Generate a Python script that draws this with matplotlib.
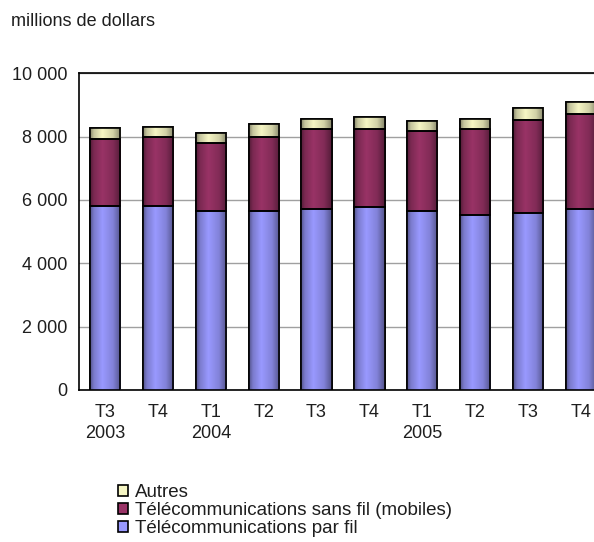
import matplotlib
matplotlib.use("Agg")
import matplotlib.pyplot as plt
import numpy as np
from matplotlib.colors import to_rgb

plt.rcParams['font.family'] = ['Liberation Sans', 'DejaVu Sans']

quarters = ["T3\n2003", "T4", "T1\n2004", "T2", "T3", "T4", "T1\n2005", "T2", "T3", "T4"]
wired = [5800, 5800, 5660, 5660, 5720, 5780, 5660, 5530, 5590, 5720]
mobile = [2140, 2200, 2150, 2340, 2530, 2470, 2530, 2720, 2920, 2980]
others = [320, 320, 320, 390, 320, 380, 310, 320, 380, 380]

labels = ["Télécommunications par fil", "Télécommunications sans fil (mobiles)", "Autres"]
colors = ["#9999ff", "#993366", "#f6f6c4"]
yticks = [0, 2000, 4000, 6000, 8000, 10000]
ytick_labels = ["0", "2 000", "4 000", "6 000", "8 000", "10 000"]


def shade(color, n=64):
    # cylinder-like shading across the bar width
    t = np.linspace(0, 1, n)
    f = np.interp(t, [0, 0.12, 0.4, 0.75, 1], [0.55, 0.8, 1.0, 0.85, 0.55])
    rgb = np.array(to_rgb(color))
    img = np.clip(rgb[None, :] * f[:, None], 0, 1)
    return img[None, :, :]


fig = plt.figure(figsize=(5.94, 5.42), dpi=100)
ax = fig.add_axes([78.5 / 594, 152 / 542, 529 / 594, 316.7 / 542])

x = np.arange(len(quarters))
width = 0.57
bottoms = np.zeros(len(quarters))
handles = []
for vals, col, lab in zip([wired, mobile, others], colors, labels):
    bars = ax.bar(x, vals, width, bottom=bottoms, color=col, edgecolor="black",
                  linewidth=1.2, label=lab, zorder=3)
    grad = shade(col)
    for p in bars.patches:
        x0, y0 = p.get_x(), p.get_y()
        im = ax.imshow(grad, extent=[x0, x0 + p.get_width(), y0, y0 + p.get_height()],
                       aspect="auto", zorder=3.5, interpolation="bilinear")
        im.set_clip_path(p)
    ax.bar(x, vals, width, bottom=bottoms, fill=False, edgecolor="black",
           linewidth=1.2, zorder=4)
    handles.append(bars)
    bottoms = bottoms + np.array(vals)

ax.set_xlim(-0.5, len(quarters) - 0.5)
ax.set_ylim(0, 10000)
ax.set_yticks(yticks)
ax.set_yticklabels(ytick_labels)
ax.set_xticks(x)
ax.set_xticklabels(quarters, linespacing=1.3, va="top")
ax.tick_params(axis="both", length=0, labelsize=13, colors="#1e1e1e")
ax.tick_params(axis="y", pad=8)
ax.tick_params(axis="x", pad=10)
ax.yaxis.grid(True, color="#a0a0a0", linewidth=1, zorder=0)
ax.set_axisbelow(True)
for s in ["left", "bottom", "top"]:
    ax.spines[s].set_color("black")
    ax.spines[s].set_linewidth(1.2)
ax.spines["right"].set_visible(False)

fig.text(11 / 594, 1 - 22 / 542, "millions de dollars", fontsize=13, color="#1e1e1e",
         va="center", ha="left")

leg = fig.legend(handles[::-1], labels[::-1], loc="upper left",
                 bbox_to_anchor=(109 / 594, 1 - 475 / 542), frameon=False,
                 fontsize=13.5, handlelength=0.5, handleheight=0.5,
                 handletextpad=0.4, labelspacing=0.05, borderpad=0)
for t in leg.get_texts():
    t.set_color("#1e1e1e")

fig.savefig("out.png", dpi=100)
